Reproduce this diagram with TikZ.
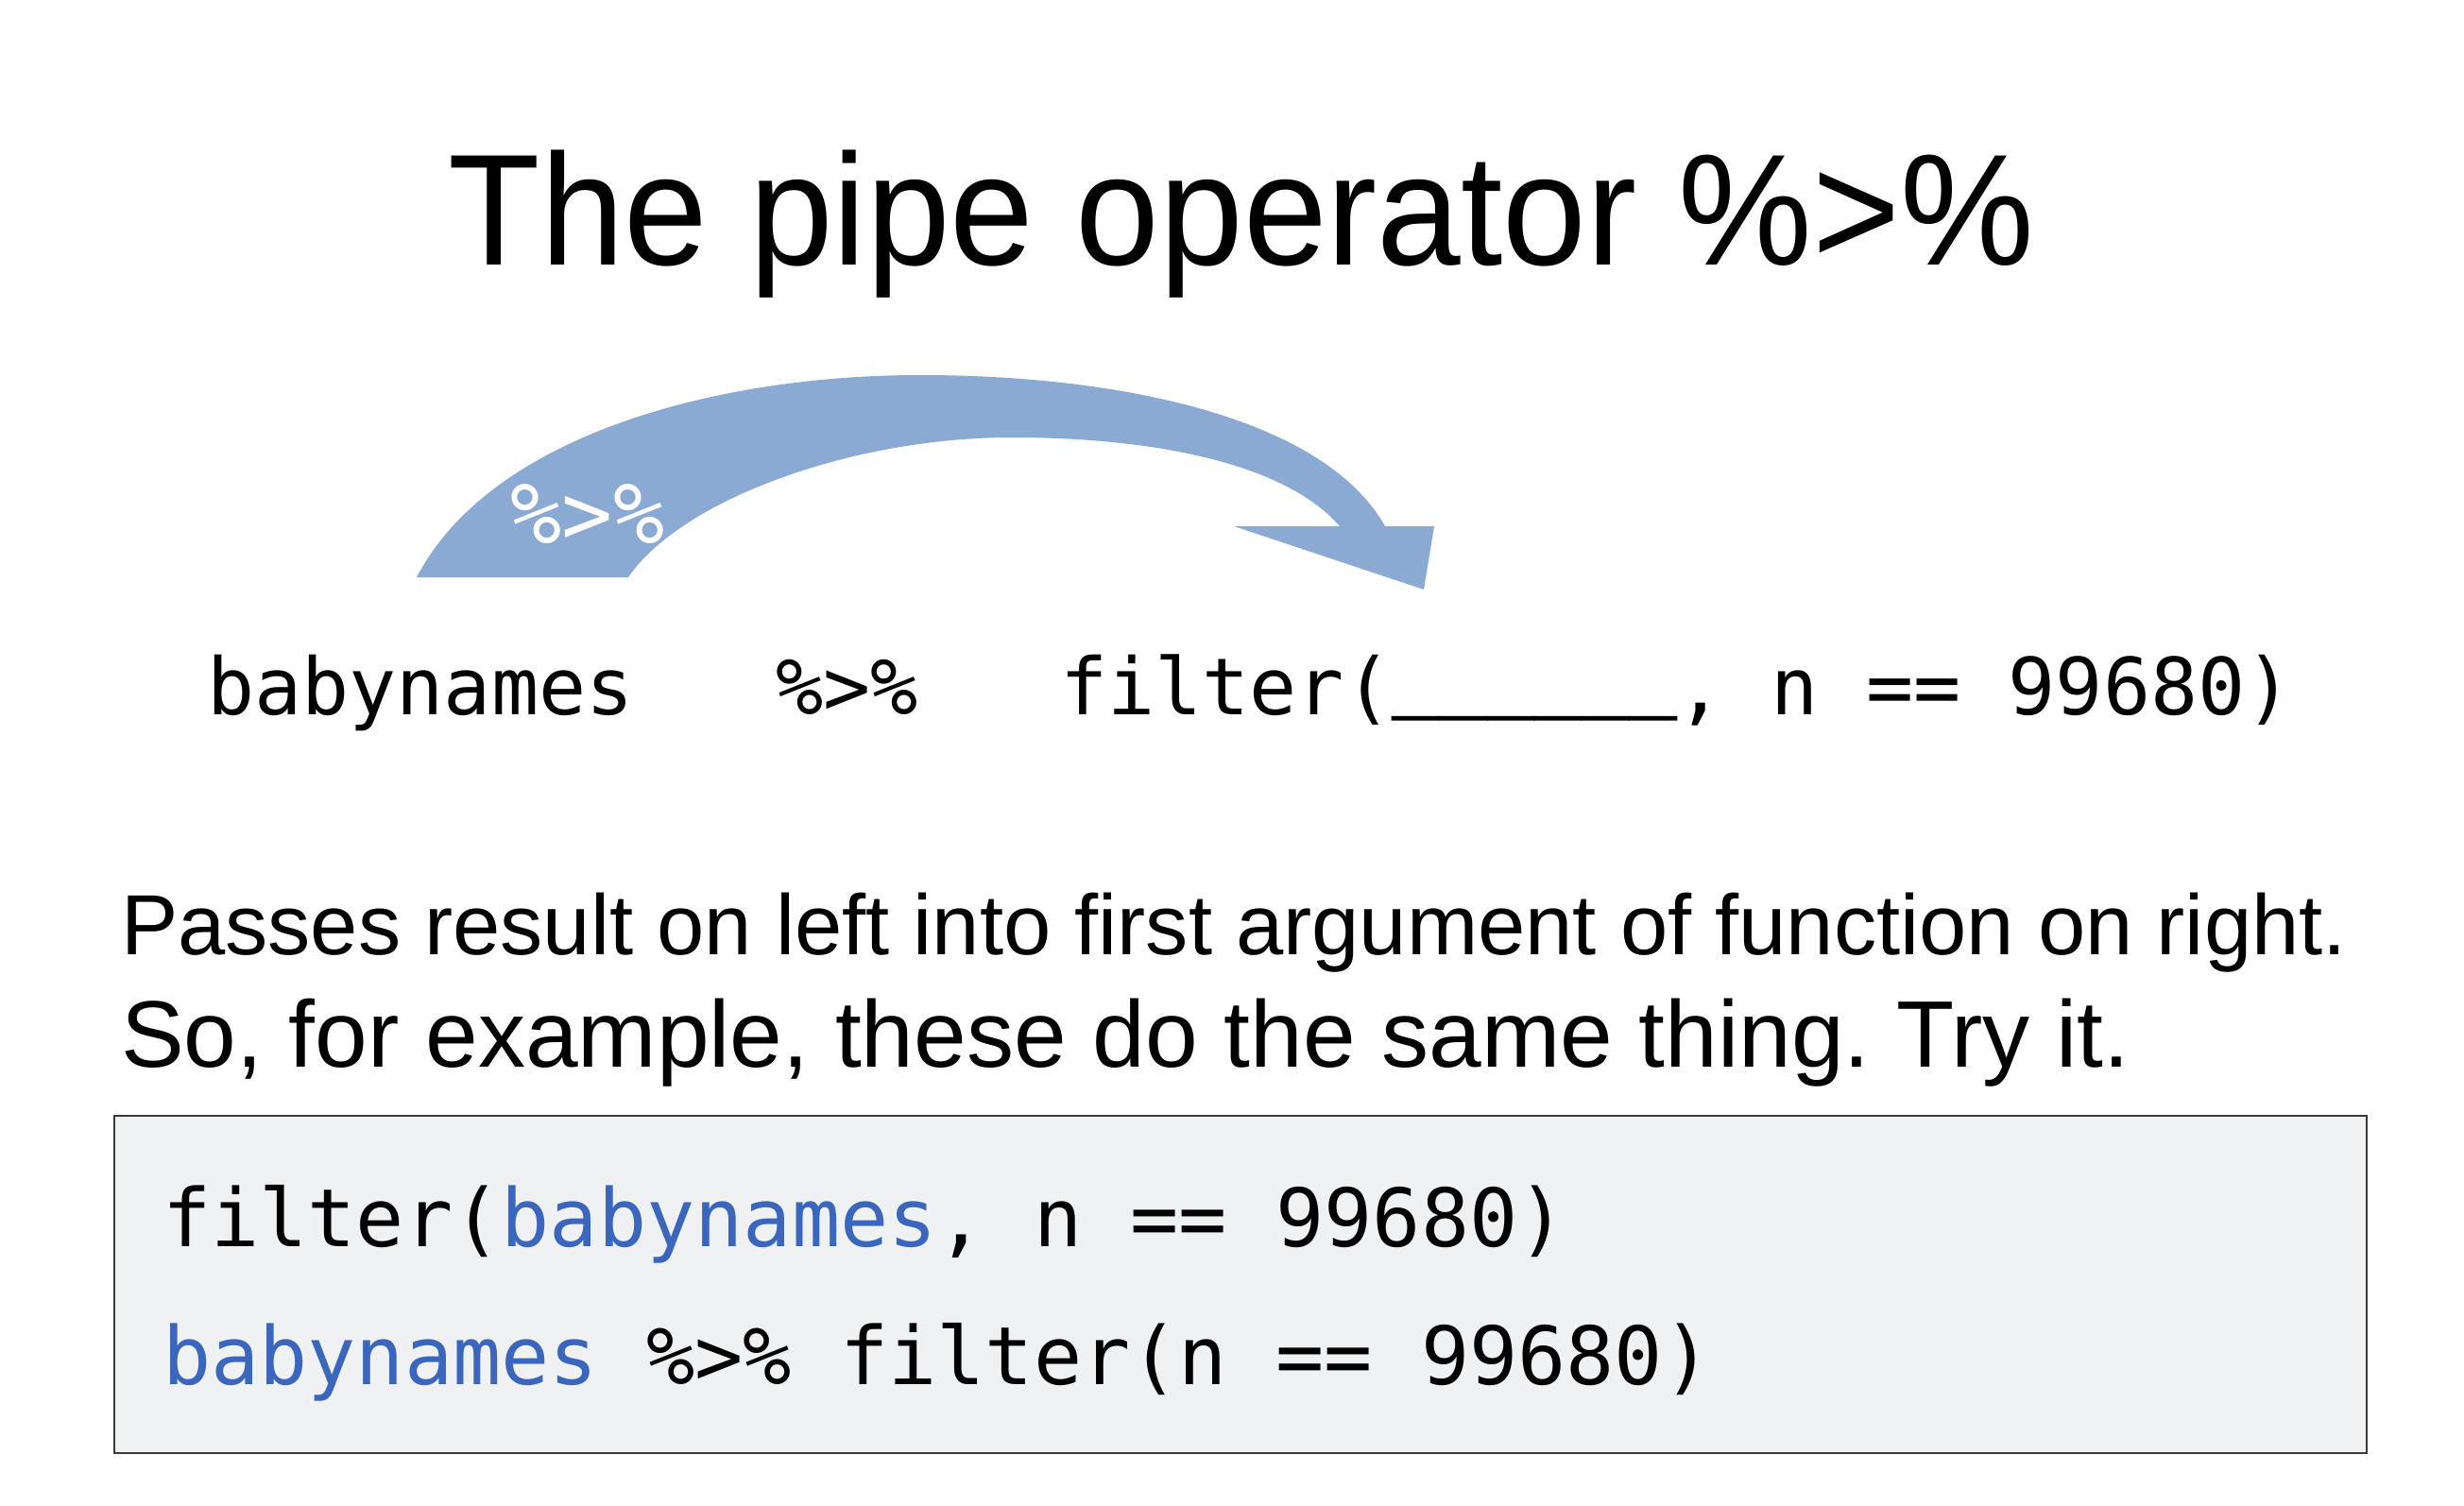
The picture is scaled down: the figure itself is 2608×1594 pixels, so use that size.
\documentclass[tikz,border=0pt]{standalone}
\usepackage{fontspec}
\setmainfont{Liberation Sans}
\newfontfamily\codefont{DejaVu Sans Mono}
\newfontfamily\codefontheavy[FakeBold=2]{DejaVu Sans Mono}
\frenchspacing
\definecolor{arrowblue}{HTML}{8AAAD4}
\definecolor{codeblue}{HTML}{3B66BE}
\definecolor{boxfill}{HTML}{F0F1F3}
\definecolor{boxline}{HTML}{3A3A3A}
\tikzset{
  txt/.style={inner sep=0pt, outer sep=0pt},
  titletext/.style={txt, anchor=base, font=\fontsize{47.7}{57}\selectfont},
  bodytext/.style={txt, anchor=base west, font=\fontsize{25.7}{34}\selectfont},
  bodytextbig/.style={txt, anchor=base west, font=\fontsize{28.45}{34}\selectfont},
  templatetext/.style={txt, anchor=base west, font=\codefont\fontsize{23.7}{29}\selectfont},
  codetext/.style={txt, anchor=base west, font=\codefont\fontsize{24.2}{29}\selectfont},
  pipelabel/.style={txt, anchor=base, text=white, font=\codefont\fontsize{25.6}{30}\selectfont},
  codebox/.style={fill=boxfill, draw=boxline, line width=0.6pt},
  pipearrow/.style={fill=arrowblue, draw=none},
}
\begin{document}
\begin{tikzpicture}[x=0.01cm, y=-0.01cm]
\useasboundingbox (0,0) rectangle (2608,1594);

% title
\node[titletext] (title) at (1314,281) {\scalebox{0.95}[1]{The pipe operator \%>\%}};

% curved pipe arrow
\path[pipearrow]
  (441,611) .. controls (520,460) and (760,397) .. (974,397)
  .. controls (1180,397) and (1400,440) .. (1466,557)
  -- (1518,557) -- (1507,624) -- (1306,557) -- (1418,557)
  .. controls (1360,490) and (1220,463) .. (1071,463)
  .. controls (900,463) and (720,530) .. (665,611)
  -- cycle;
\node[pipelabel] (pipelab) at (622,575) {\%>\%};

% template line
\node[templatetext] (template) at (219,756)
  {babynames~~~\%>\%~~~filter(\raisebox{0.165em}{\codefontheavy\_\_\_\_\_\_}, n == 99680)};

% explanation
\node[bodytext] (line1) at (128,1010)
  {Passes result on left into first argument of function on right.};
\node[bodytextbig] (line2) at (128,1129)
  {So, for example, these do the same thing. Try it.};

% code box
\draw[codebox] (121,1181) rectangle (2505,1538);
\node[codetext] (code1) at (172,1319)
  {filter(\textcolor{codeblue}{babynames}, n == 99680)};
\node[codetext] (code2) at (172,1465)
  {\textcolor{codeblue}{babynames} \%>\% filter(n == 99680)};
\end{tikzpicture}
\end{document}
